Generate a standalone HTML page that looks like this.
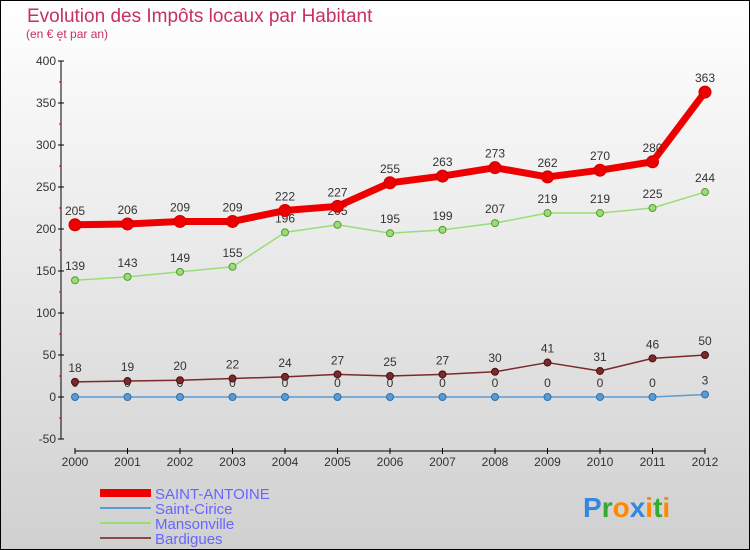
<!DOCTYPE html>
<html><head><meta charset="utf-8"><style>
body{margin:0}
#c{width:750px;height:550px;position:relative;box-sizing:border-box;border:1px solid #000;background:linear-gradient(#ffffff,#d0d0d0);font-family:"Liberation Sans",sans-serif;overflow:hidden}
</style></head><body>
<div id="c">
<svg id="s" width="750" height="550" style="position:absolute;left:-1px;top:-1px"></svg>
</div>
<script>
const years=["2000","2001","2002","2003","2004","2005","2006","2007","2008","2009","2010","2011","2012"];
const saintAntoine=[205,206,209,209,222,227,255,263,273,262,270,280,363];
const saintCirice=[0,0,0,0,0,0,0,0,0,0,0,0,3];
const mansonville=[139,143,149,155,196,205,195,199,207,219,219,225,244];
const bardigues=[18,19,20,22,24,27,25,27,30,41,31,46,50];
const yTicks=[-50,0,50,100,150,200,250,300,350,400];
const NS="http://www.w3.org/2000/svg";
const s=document.getElementById('s');
function X(i){return 75+i*(705-75)/12;}
function Y(v){return 397-v*0.84;}
function el(t,a,p){const e=document.createElementNS(NS,t);for(const k in a)e.setAttribute(k,a[k]);(p||s).appendChild(e);return e;}
function txt(x,y,str,a){const e=el('text',Object.assign({x:x,y:y},a));e.textContent=str;return e;}
let t=txt(27,22,"Evolution des Impôts locaux par Habitant",{fill:"#c8305e","font-size":"19"});

t=txt(26,38,"(en € et par an)",{fill:"#c8305e","font-size":"12"});

// axes
let a=el('line',{x1:61,y1:Y(400),x2:61,y2:Y(-50),stroke:"#000","stroke-width":1});

yTicks.forEach(v=>{el('line',{x1:58,x2:64,y1:Y(v),y2:Y(v),stroke:"#000"});
 el('line',{x1:59,x2:61,y1:Y(v+25),y2:Y(v+25),stroke:"#d00"});
 const l=txt(56,Y(v)+4,String(v),{fill:"#333","font-size":"12","text-anchor":"end"});
 });
a=el('line',{x1:X(0),y1:451,x2:X(12),y2:451,stroke:"#000"});

years.forEach((y,i)=>{el('line',{x1:X(i),x2:X(i),y1:448,y2:454,stroke:"#000"});
 const l=txt(X(i),466,y,{fill:"#333","font-size":"12","text-anchor":"middle"});
 });
function series(data,color,w,r,name,dark,lab){
 const p=el('polyline',{points:data.map((v,i)=>X(i)+","+Y(v)).join(" "),fill:"none",stroke:color,"stroke-width":w,"stroke-linejoin":"round"});
 
 data.forEach((v,i)=>{const c=el('circle',{cx:X(i),cy:Y(v),r:r,fill:color,stroke:dark,"stroke-width":1});
  
  if(lab){const l=txt(X(i),Y(v)-10,String(v),{fill:"#333","font-size":"12","text-anchor":"middle"});
  }});
}
series(saintCirice,"#5b9bd5",1.5,3.5,"saint-cirice","#2f6fa5",true);
series(bardigues,"#7a2a2a",1.5,3.5,"bardigues","#4a1010",true);
series(mansonville,"#99dd77",1.5,3.5,"mansonville","#559933",true);
series(saintAntoine,"#ee0000",7,6,"saint-antoine","#cc0000",true);
// legend
const leg=[["SAINT-ANTOINE","#ee0000",8],["Saint-Cirice","#5b9bd5",2],["Mansonville","#99dd77",2],["Bardigues","#8a4a4a",2]];
leg.forEach((l,i)=>{const y=493+i*15;
 const ln=el('line',{x1:100,x2:151,y1:y,y2:y,stroke:l[1],"stroke-width":l[2]});
 
 const tt=txt(155,y+6,l[0],{fill:"#6666ff","font-size":"15"});
 });
const g=el('text',{x:583,y:517,"font-size":"28","font-weight":"bold"});

[["P","#3388dd"],["r","#33aa33"],["o","#ff8800"],["x","#3388dd"],["i","#ff8800"],["t","#33aa33"],["i","#ff8800"]].forEach(c=>{const sp=el('tspan',{fill:c[1]},g);sp.textContent=c[0];});
</script>
</body></html>
